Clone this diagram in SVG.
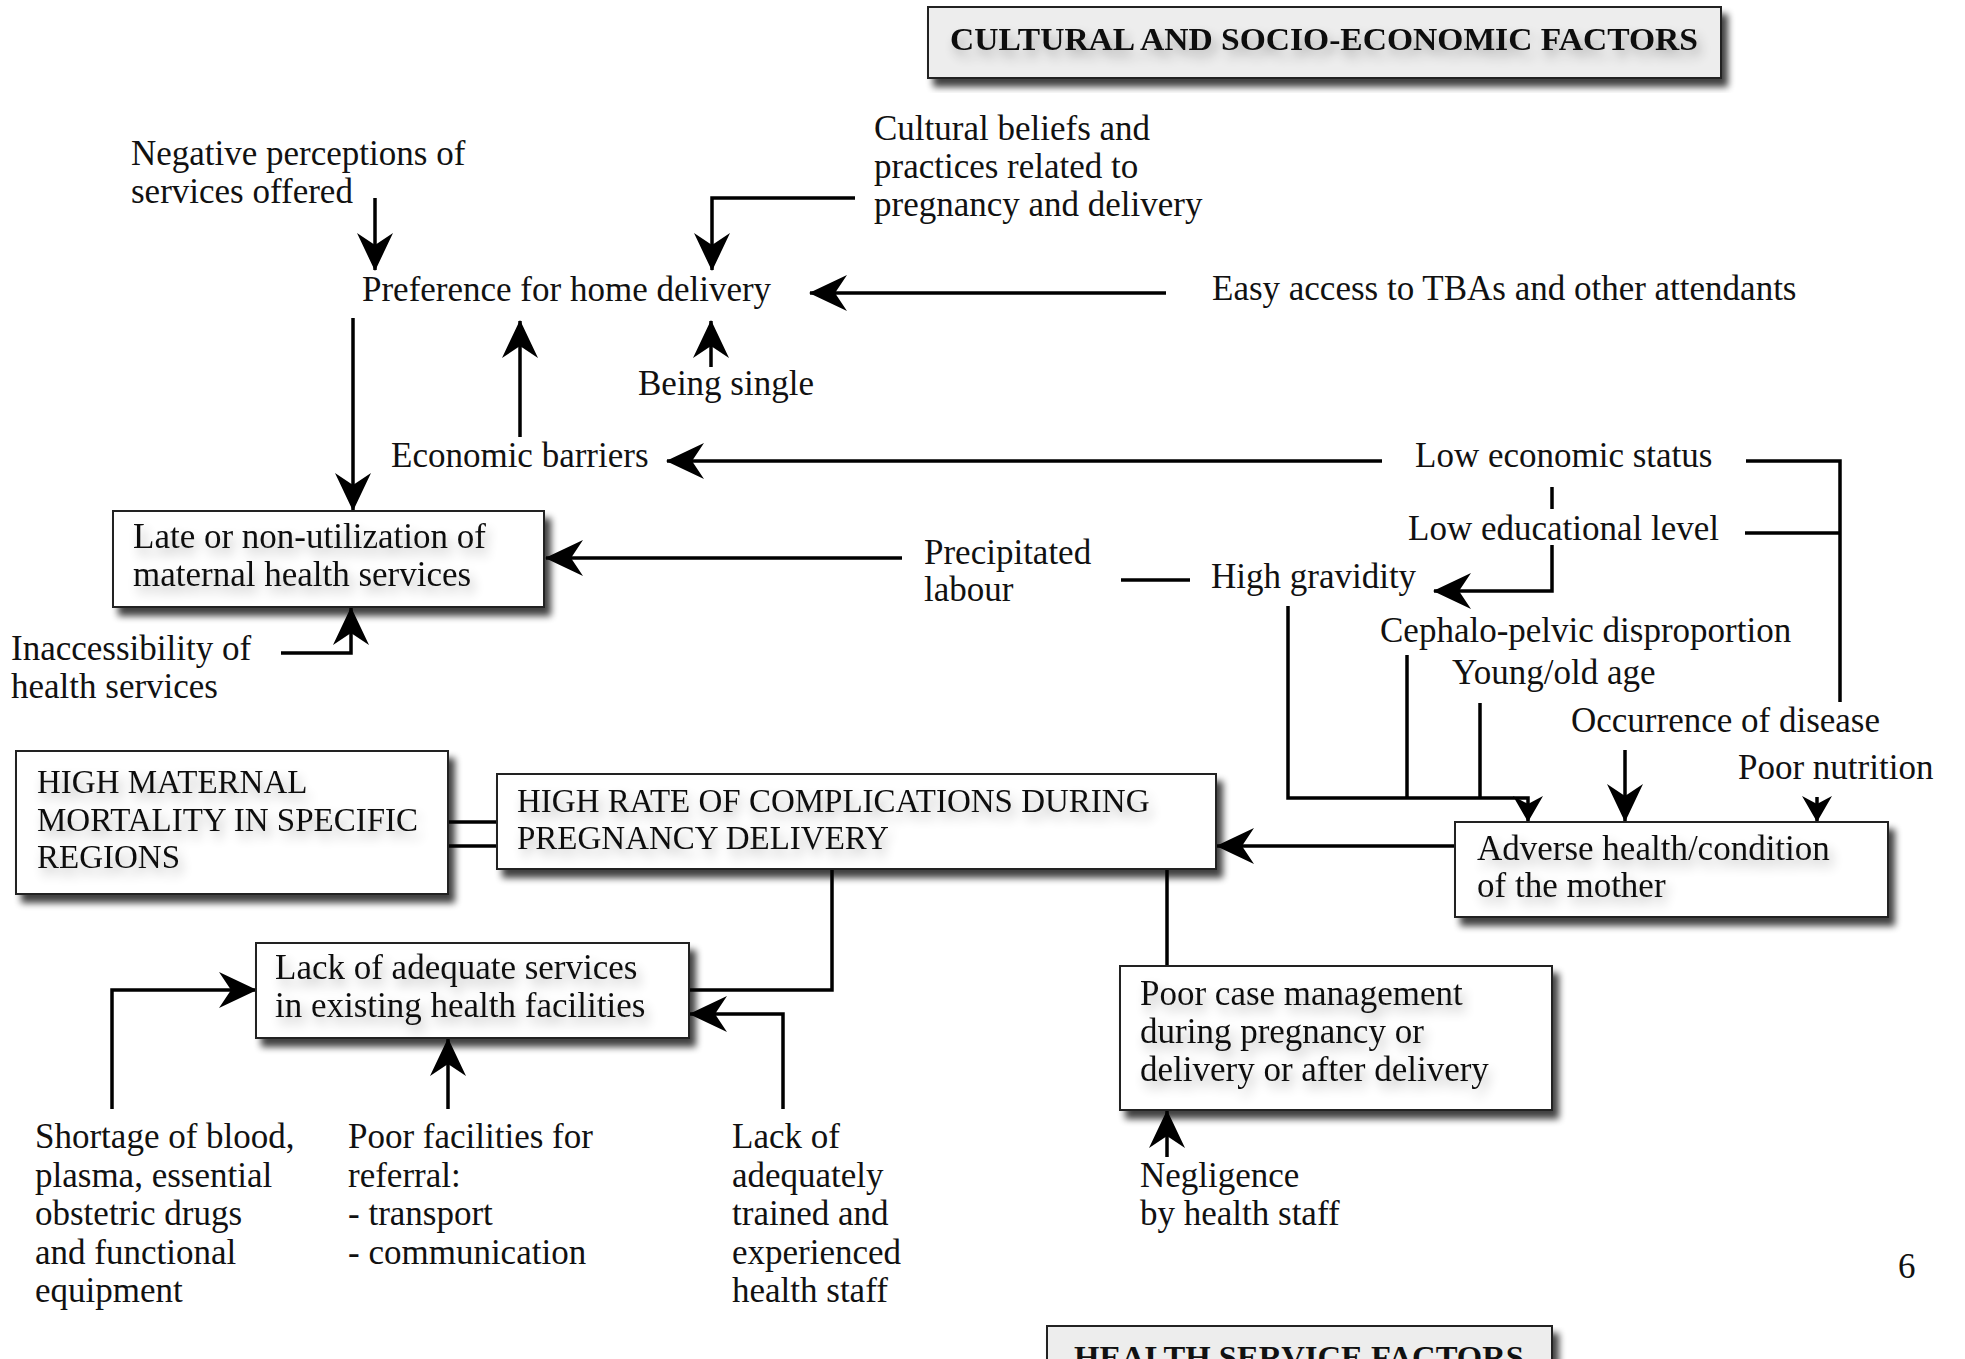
<svg xmlns="http://www.w3.org/2000/svg" width="1965" height="1359" viewBox="0 0 1965 1359">
<style>
text{font-family:"Liberation Serif","DejaVu Serif",serif;font-size:35px;fill:#111}
.cap{font-size:33px}
.hdr{font-size:32px;font-weight:bold}
.box{fill:#fff;stroke:#222;stroke-width:2}
.gbox{fill:#ededed;stroke:#222;stroke-width:2}
.ln{fill:none;stroke:#000;stroke-width:3.5}
.ar{marker-end:url(#ah)}
.as{marker-end:url(#ahs)}
</style>
<defs>
<marker id="ah" markerUnits="userSpaceOnUse" markerWidth="42" markerHeight="42" viewBox="-40 -21 42 42" refX="0" refY="0" orient="auto">
<path d="M1,0 L-37,-18 L-25,0 L-37,18 Z" fill="#000"/>
</marker>
<marker id="ahs" markerUnits="userSpaceOnUse" markerWidth="30" markerHeight="34" viewBox="-28 -17 30 34" refX="0" refY="0" orient="auto">
<path d="M1,0 L-25,-15 L-17,0 L-25,15 Z" fill="#000"/>
</marker>
<filter id="bs" x="-5%" y="-10%" width="115%" height="130%">
<feGaussianBlur in="SourceAlpha" stdDeviation="3.5"/>
<feOffset dx="6" dy="8" result="o"/>
<feComponentTransfer><feFuncA type="linear" slope="0.75"/></feComponentTransfer>
<feMerge><feMergeNode/><feMergeNode in="SourceGraphic"/></feMerge>
</filter>
<filter id="ts" x="-10%" y="-40%" width="125%" height="200%">
<feGaussianBlur in="SourceAlpha" stdDeviation="6"/>
<feOffset dx="4" dy="7"/>
<feComponentTransfer><feFuncA type="linear" slope="0.3"/></feComponentTransfer>
<feMerge><feMergeNode/><feMergeNode in="SourceGraphic"/></feMerge>
</filter>
</defs>
<rect width="1965" height="1359" fill="#fff"/>

<g id="connectors">
<path class="ln ar" d="M375,198 V270"/>
<path class="ln ar" d="M855,198 H712 V270"/>
<path class="ln ar" d="M1166,293 H810"/>
<path class="ln ar" d="M711,367 V321"/>
<path class="ln ar" d="M520,437 V321"/>
<path class="ln ar" d="M353,318 V510"/>
<path class="ln ar" d="M1382,461 H667"/>
<path class="ln" d="M1746,461 H1840 V702"/>
<path class="ln" d="M1745,533 H1840"/>
<path class="ln" d="M1552,487 V509"/>
<path class="ln ar" d="M1552,545 V591 H1434"/>
<path class="ln ar" d="M902,558 H546"/>
<path class="ln" d="M1121,580 H1190"/>
<path class="ln ar" d="M281,653 H351 V608"/>
<path class="ln as" d="M1288,606 V798 H1528 V821"/>
<path class="ln" d="M1407,655 V798"/>
<path class="ln" d="M1480,703 V798"/>
<path class="ln ar" d="M1625,750 V821"/>
<path class="ln as" d="M1817,797 V821"/>
<path class="ln ar" d="M1455,846 H1217"/>
<path class="ln" d="M448,822 H497"/>
<path class="ln" d="M448,846 H497"/>
<path class="ln" d="M832,869 V990 H689"/>
<path class="ln ar" d="M112,1109 V990 H256"/>
<path class="ln ar" d="M448,1109 V1039"/>
<path class="ln ar" d="M783,1109 V1014 H690"/>
<path class="ln" d="M1167,869 V966"/>
<path class="ln ar" d="M1167,1157 V1111"/>
</g>

<g id="title">
<rect class="gbox" x="928" y="7" width="793" height="71" filter="url(#bs)"/>
<text class="hdr" x="950" y="50" textLength="748" lengthAdjust="spacingAndGlyphs" filter="url(#ts)">CULTURAL AND SOCIO-ECONOMIC FACTORS</text>
</g>

<g id="negative"><text x="131" y="165">Negative perceptions of</text><text x="131" y="203">services offered</text></g>
<g id="cultural"><text x="874" y="140">Cultural beliefs and</text><text x="874" y="178">practices related to</text><text x="874" y="216">pregnancy and delivery</text></g>
<g id="preference"><text x="362" y="301">Preference for home delivery</text></g>
<g id="easy"><text x="1212" y="300">Easy access to TBAs and other attendants</text></g>
<g id="single"><text x="638" y="395">Being single</text></g>
<g id="economic"><text x="391" y="467">Economic barriers</text></g>
<g id="loweco"><text x="1415" y="467">Low economic status</text></g>
<g id="lowedu"><text x="1408" y="540">Low educational level</text></g>

<g id="late">
<rect class="box" x="113" y="511" width="431" height="96" filter="url(#bs)"/>
<g filter="url(#ts)"><text x="133" y="548">Late or non-utilization of</text><text x="133" y="586">maternal health services</text></g>
</g>

<g id="inaccess"><text x="11" y="660">Inaccessibility of</text><text x="11" y="698">health services</text></g>
<g id="precip"><text x="924" y="564">Precipitated</text><text x="924" y="601">labour</text></g>
<g id="gravidity"><text x="1211" y="588">High gravidity</text></g>
<g id="cephalo"><text x="1380" y="642">Cephalo-pelvic disproportion</text></g>
<g id="age"><text x="1452" y="684">Young/old age</text></g>
<g id="disease"><text x="1571" y="732">Occurrence of disease</text></g>
<g id="nutrition"><text x="1738" y="779">Poor nutrition</text></g>

<g id="maternal">
<rect class="box" x="16" y="751" width="432" height="143" filter="url(#bs)"/>
<g filter="url(#ts)"><text class="cap" x="37" y="793">HIGH MATERNAL</text><text class="cap" x="37" y="831">MORTALITY IN SPECIFIC</text><text class="cap" x="37" y="868">REGIONS</text></g>
</g>

<g id="complications">
<rect class="box" x="497" y="774" width="719" height="95" filter="url(#bs)"/>
<g filter="url(#ts)"><text class="cap" x="517" y="812">HIGH RATE OF COMPLICATIONS DURING</text><text class="cap" x="517" y="849">PREGNANCY DELIVERY</text></g>
</g>

<g id="adverse">
<rect class="box" x="1455" y="822" width="433" height="95" filter="url(#bs)"/>
<g filter="url(#ts)"><text x="1477" y="860">Adverse health/condition</text><text x="1477" y="897">of the mother</text></g>
</g>

<g id="lack">
<rect class="box" x="256" y="943" width="433" height="95" filter="url(#bs)"/>
<g filter="url(#ts)"><text x="275" y="979">Lack of adequate services</text><text x="275" y="1017">in existing health facilities</text></g>
</g>

<g id="poorcase">
<rect class="box" x="1120" y="966" width="432" height="144" filter="url(#bs)"/>
<g filter="url(#ts)"><text x="1140" y="1005">Poor case management</text><text x="1140" y="1043">during pregnancy or</text><text x="1140" y="1081">delivery or after delivery</text></g>
</g>

<g id="shortage"><text x="35" y="1148">Shortage of blood,</text><text x="35" y="1187">plasma, essential</text><text x="35" y="1225">obstetric drugs</text><text x="35" y="1264">and functional</text><text x="35" y="1302">equipment</text></g>
<g id="referral"><text x="348" y="1148">Poor facilities for</text><text x="348" y="1187">referral:</text><text x="348" y="1225">- transport</text><text x="348" y="1264">- communication</text></g>
<g id="staff"><text x="732" y="1148">Lack of</text><text x="732" y="1187">adequately</text><text x="732" y="1225">trained and</text><text x="732" y="1264">experienced</text><text x="732" y="1302">health staff</text></g>
<g id="negligence"><text x="1140" y="1187">Negligence</text><text x="1140" y="1225">by health staff</text></g>
<g id="pagenum"><text x="1898" y="1278">6</text></g>

<g id="healthservice">
<rect class="gbox" x="1047" y="1326" width="505" height="70" filter="url(#bs)"/>
<text class="hdr" x="1074" y="1368" textLength="450" lengthAdjust="spacingAndGlyphs">HEALTH SERVICE FACTORS</text>
</g>
</svg>
